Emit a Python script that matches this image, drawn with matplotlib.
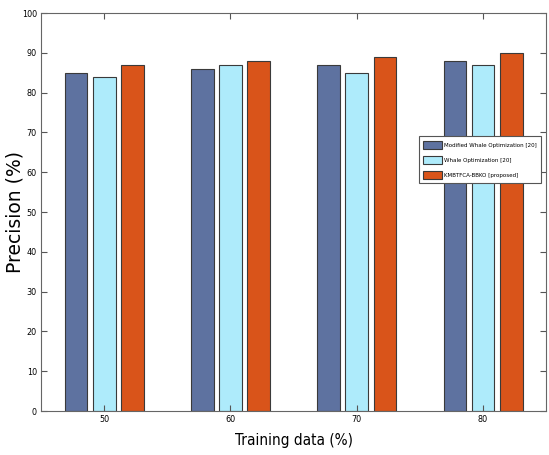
import numpy as np
import matplotlib
matplotlib.use("Agg")
import matplotlib.pyplot as plt

# 学習データの割合ごとの精度
groups = ["50", "60", "70", "80"]
modified_whale = [85, 86, 87, 88]
whale = [84, 87, 85, 87]
proposed = [87, 88, 89, 90]
series_names = ["Modified Whale Optimization [20]", "Whale Optimization [20]", "KMBTFCA-BBKO [proposed]"]
colors = ["#5E72A0", "#AEEBFB", "#D9541A"]

fig = plt.figure(figsize=(5.49, 4.55), dpi=100)
ax = fig.add_axes([0.0747, 0.0967, 0.92, 0.8747])

x = np.arange(1, len(groups) + 1)
offsets = [-0.222, 0.0, 0.225]
for vals, off, c, name in zip([modified_whale, whale, proposed], offsets, colors, series_names):
    ax.bar(x + off, vals, width=0.18, color=c, edgecolor="#3a3a3a", linewidth=0.8, label=name)

ax.set_xlim(0.5, 4.5)
ax.set_ylim(0, 100)
ax.set_xticks(x)
ax.set_xticklabels(groups, fontsize=6.5, fontstretch="condensed")
ax.set_yticks(range(0, 101, 10))
ax.set_yticklabels([str(v) for v in range(0, 101, 10)], fontsize=6.5, fontstretch="condensed")
ax.tick_params(direction="in", top=True, right=True, length=4, width=0.8, color="#555555", pad=3)
for s in ax.spines.values():
    s.set_color("#666666")
    s.set_linewidth(0.8)

ax.set_xlabel("Training data (%)", fontsize=11, fontstretch="condensed", labelpad=6)
ax.set_ylabel("Precision (%)", fontsize=13.5)
ax.yaxis.set_label_coords(-0.032, 0.5)

leg = ax.legend(loc="upper right", bbox_to_anchor=(0.99, 0.69), prop={"size": 4.4, "stretch": "condensed"},
                fancybox=False, edgecolor="#555555", framealpha=1, handlelength=3.1, handleheight=1.7,
                borderpad=0.7, labelspacing=1.1, handletextpad=0.3, borderaxespad=0)
leg.get_frame().set_linewidth(0.8)

fig.savefig("out.png", dpi=100)
